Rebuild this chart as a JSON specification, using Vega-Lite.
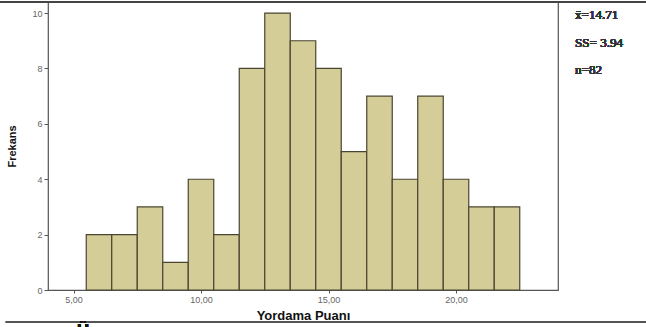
{
  "$schema": "https://vega.github.io/schema/vega-lite/v6.json",
  "autosize": {"type": "none"},
  "width": 510,
  "height": 288,
  "padding": {"left": 48, "top": 2, "right": 88, "bottom": 37},
  "background": "white",
  "config": {
    "view": {"stroke": "#555555", "strokeWidth": 1.2},
    "axis": {"grid": false, "domain": false, "labelFont": "Liberation Sans", "titleFont": "Liberation Sans"}
  },
  "data": {
    "values": [
      {"bin_start": 5.5, "bin_end": 6.5, "count": 2},
      {"bin_start": 6.5, "bin_end": 7.5, "count": 2},
      {"bin_start": 7.5, "bin_end": 8.5, "count": 3},
      {"bin_start": 8.5, "bin_end": 9.5, "count": 1},
      {"bin_start": 9.5, "bin_end": 10.5, "count": 4},
      {"bin_start": 10.5, "bin_end": 11.5, "count": 2},
      {"bin_start": 11.5, "bin_end": 12.5, "count": 8},
      {"bin_start": 12.5, "bin_end": 13.5, "count": 10},
      {"bin_start": 13.5, "bin_end": 14.5, "count": 9},
      {"bin_start": 14.5, "bin_end": 15.5, "count": 8},
      {"bin_start": 15.5, "bin_end": 16.5, "count": 5},
      {"bin_start": 16.5, "bin_end": 17.5, "count": 7},
      {"bin_start": 17.5, "bin_end": 18.5, "count": 4},
      {"bin_start": 18.5, "bin_end": 19.5, "count": 7},
      {"bin_start": 19.5, "bin_end": 20.5, "count": 4},
      {"bin_start": 20.5, "bin_end": 21.5, "count": 3},
      {"bin_start": 21.5, "bin_end": 22.5, "count": 3}
    ]
  },
  "layer": [
    {
      "mark": {"type": "bar", "fill": "#D4CD98", "stroke": "#4A4530", "strokeWidth": 1.2},
      "encoding": {
        "x": {
          "field": "bin_start", "type": "quantitative",
          "scale": {"domain": [4, 24], "nice": false, "zero": false},
          "axis": {
            "values": [5, 10, 15, 20],
            "labelExpr": "replace(format(datum.value, '.2f'), '.', ',')",
            "labelFontSize": 9, "labelColor": "#666666",
            "tickSize": 3, "tickColor": "#555555", "labelPadding": 2,
            "title": "Yordama Puanı", "titleFontSize": 13, "titleFontWeight": "bold",
            "titleColor": "#111111", "titlePadding": 5
          }
        },
        "x2": {"field": "bin_end"},
        "y": {
          "field": "count", "type": "quantitative",
          "scale": {"domain": [0, 10.4], "nice": false},
          "axis": {
            "values": [0, 2, 4, 6, 8, 10],
            "labelFontSize": 9, "labelColor": "#666666",
            "tickSize": 4, "tickColor": "#555555", "labelPadding": 2,
            "title": "Frekans", "titleFontSize": 11, "titleFontWeight": "bold",
            "titleColor": "#111111", "titlePadding": 14
          }
        },
        "y2": {"datum": 0}
      }
    },
    {
      "mark": {"type": "rule", "stroke": "#444444", "strokeWidth": 1.5},
      "encoding": {
        "x": {"datum": 2.05, "type": "quantitative"},
        "x2": {"datum": 27.5},
        "y": {"datum": 10.4, "type": "quantitative"}
      }
    },
    {
      "mark": {"type": "rule", "stroke": "#555555", "strokeWidth": 1.5},
      "encoding": {
        "x": {"datum": 2.35, "type": "quantitative"},
        "x2": {"datum": 27.5},
        "y": {"datum": -1.155, "type": "quantitative"}
      }
    },
    {
      "mark": {"type": "text", "align": "left", "baseline": "middle", "font": "Times New Roman, Liberation Serif, serif", "fontSize": 13, "fontWeight": 400, "color": "#333333"},
      "encoding": {
        "x": {"datum": 24.67, "type": "quantitative"},
        "y": {"datum": 9.93, "type": "quantitative"},
        "text": {"value": "x̄=14.71"}
      }
    },
    {
      "mark": {"type": "text", "align": "left", "baseline": "middle", "font": "Times New Roman, Liberation Serif, serif", "fontSize": 13, "fontWeight": 400, "color": "#333333"},
      "encoding": {
        "x": {"datum": 24.67, "type": "quantitative"},
        "y": {"datum": 8.92, "type": "quantitative"},
        "text": {"value": "SS= 3.94"}
      }
    },
    {
      "mark": {"type": "text", "align": "left", "baseline": "middle", "font": "Times New Roman, Liberation Serif, serif", "fontSize": 13, "fontWeight": 400, "color": "#333333"},
      "encoding": {
        "x": {"datum": 24.67, "type": "quantitative"},
        "y": {"datum": 7.95, "type": "quantitative"},
        "text": {"value": "n=82"}
      }
    },
    {
      "mark": {"type": "text", "align": "center", "baseline": "top", "font": "Liberation Sans", "fontWeight": "bold", "fontSize": 16, "color": "#111111"},
      "encoding": {
        "x": {"datum": 5.37, "type": "quantitative"},
        "y": {"datum": -1.2, "type": "quantitative"},
        "text": {"value": "Ü"}
      }
    }
  ]
}
